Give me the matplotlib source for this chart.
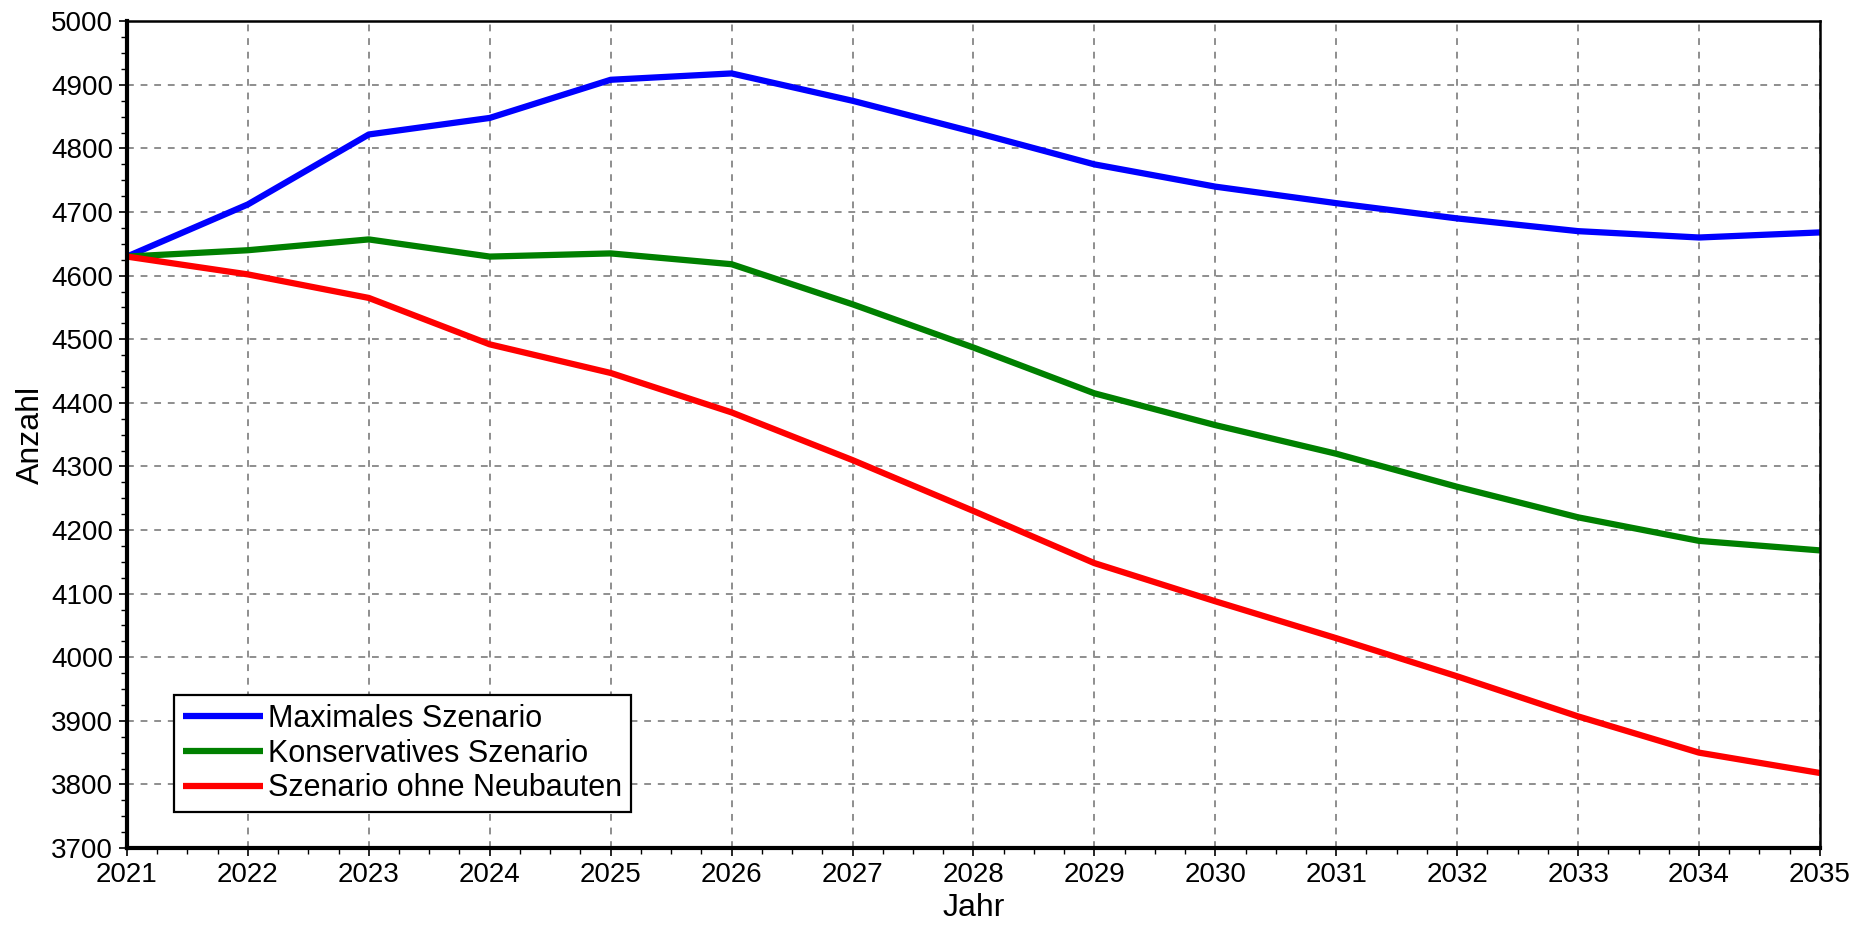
import numpy as np
import matplotlib
matplotlib.use("Agg")
import matplotlib.pyplot as plt
from matplotlib.ticker import MultipleLocator

plt.rcParams['font.family'] = ['Liberation Sans', 'DejaVu Sans']

jahre = list(range(2021, 2036))
maximal = [4630, 4712, 4822, 4848, 4908, 4918, 4875, 4826, 4775, 4740, 4714, 4690, 4670, 4660, 4668]
konservativ = [4630, 4640, 4657, 4630, 4635, 4618, 4555, 4487, 4415, 4365, 4320, 4268, 4220, 4183, 4168]
ohne_neubau = [4630, 4602, 4565, 4492, 4447, 4385, 4310, 4230, 4148, 4088, 4030, 3970, 3907, 3850, 3818]
namen = ["Maximales Szenario", "Konservatives Szenario", "Szenario ohne Neubauten"]
farben = ["#0000ff", "#008000", "#ff0000"]

fig = plt.figure(figsize=(18.72, 9.25), dpi=100)
ax = fig.add_axes([0.0678, 0.0832, 0.9044, 0.8938])

for werte, name, farbe in zip([maximal, konservativ, ohne_neubau], namen, farben):
    ax.plot(jahre, werte, color=farbe, lw=4.5, label=name, solid_capstyle='butt')

ax.set_xlim(2021, 2035)
ax.set_ylim(3700, 5000)
ax.xaxis.set_major_locator(MultipleLocator(1))
ax.xaxis.set_minor_locator(MultipleLocator(0.25))
ax.yaxis.set_major_locator(MultipleLocator(100))
ax.yaxis.set_minor_locator(MultipleLocator(25))
# graues gestricheltes Gitter
ax.grid(True, which='major', color='#8e8e8e', linestyle=(0, (3.5, 3.5)), linewidth=1.4)

ax.tick_params(which='major', direction='out', length=6, width=1.2, labelsize=20, pad=4)
ax.tick_params(which='minor', direction='out', length=4.5, width=1.0)

for s in ['left', 'bottom']:
    ax.spines[s].set_linewidth(3.0)
for s in ['top', 'right']:
    ax.spines[s].set_linewidth(1.8)

ax.set_xlabel("Jahr", fontsize=23, labelpad=4)
ax.set_ylabel("Anzahl", fontsize=23, labelpad=4)

leg = ax.legend(loc='lower left', bbox_to_anchor=(0.028, 0.043), fontsize=22,
                frameon=True, fancybox=False, framealpha=1, edgecolor='black',
                handlelength=2.6, handletextpad=0.15, borderpad=0.3, labelspacing=0.15,
                borderaxespad=0)
leg.get_frame().set_linewidth(1.6)

fig.savefig("out.png", dpi=100)
